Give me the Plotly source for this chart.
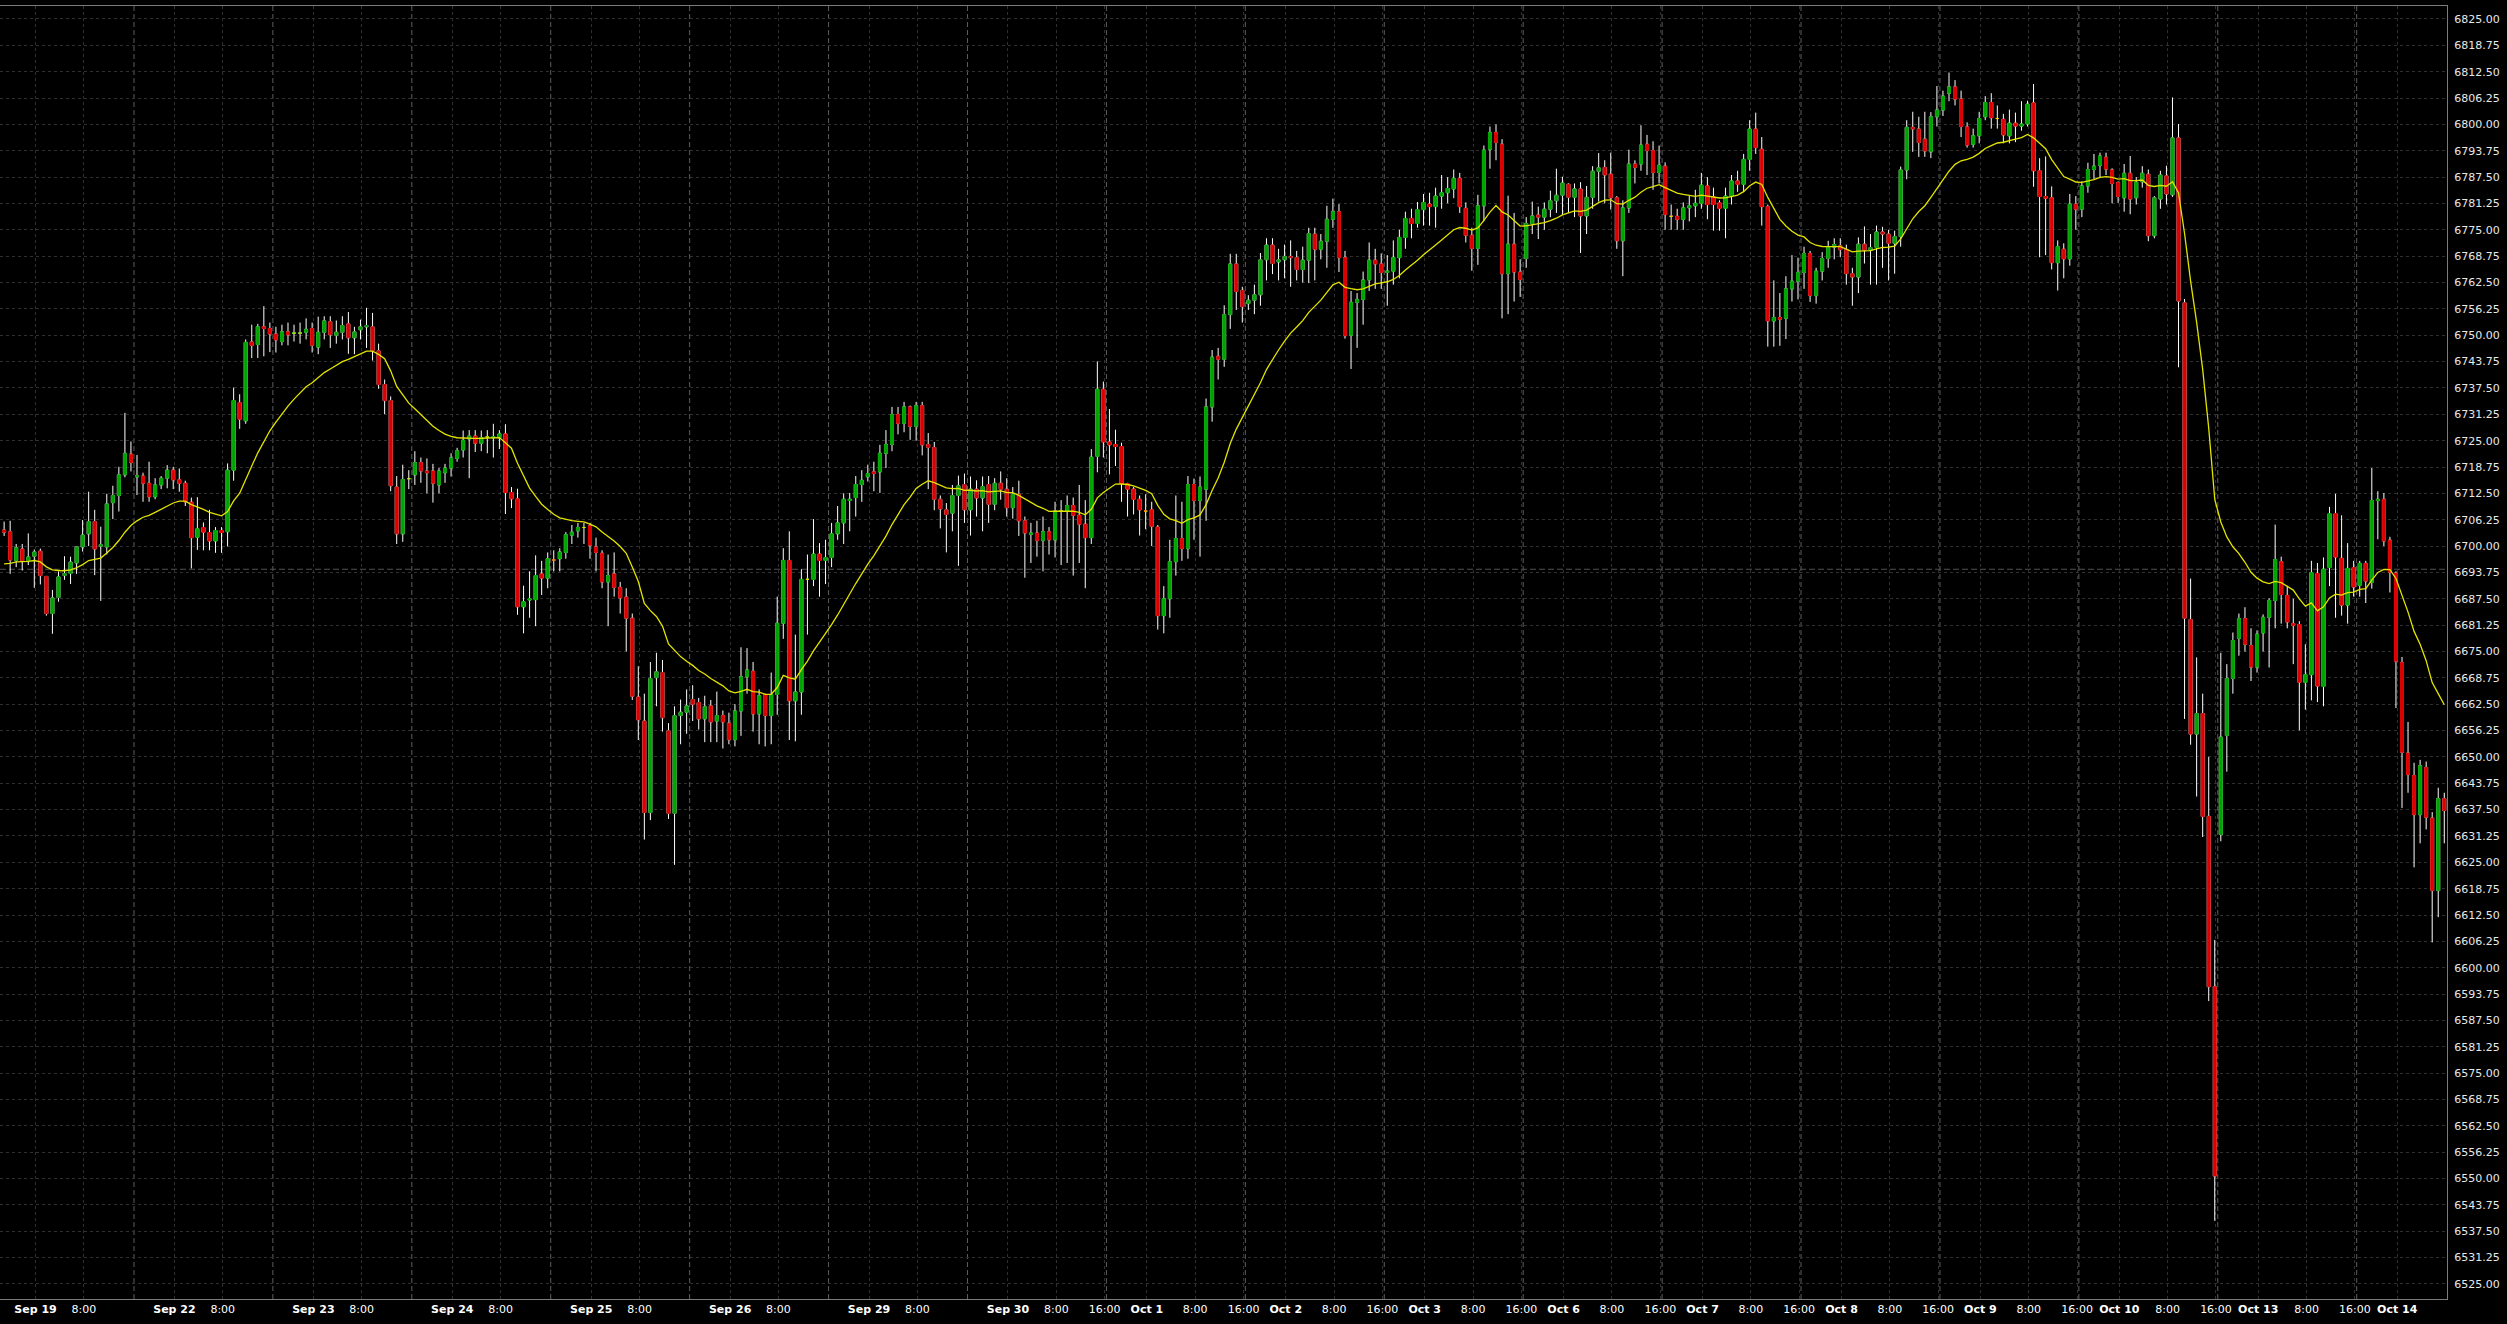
import plotly.graph_objects as go

# ---------------- data (hourly bars, index 0..404) ----------------
opens = [
    6703.8, 6703.4, 6696.6, 6699.3, 6696.6, 6697.6, 6698.8, 6692.8, 6684.0, 6687.8,
    6693.0, 6693.5, 6696.0, 6699.8, 6702.9, 6705.8, 6700.0, 6699.8, 6710.3, 6712.0,
    6716.9, 6721.8, 6716.4, 6716.6, 6714.9, 6711.7, 6714.5, 6716.1, 6718.0, 6715.7,
    6714.9, 6710.4, 6702.1, 6704.4, 6703.2, 6701.2, 6703.7, 6703.4, 6718.0, 6734.0,
    6729.7, 6748.4, 6747.8, 6752.0, 6751.6, 6750.3, 6748.5, 6750.8, 6750.5, 6750.5,
    6750.7, 6751.6, 6747.2, 6750.7, 6753.2, 6750.0, 6750.7, 6752.7, 6749.4, 6751.3,
    6752.0, 6752.0, 6746.3, 6738.3, 6734.5, 6714.0, 6702.9, 6716.0, 6716.9, 6719.8,
    6717.8, 6717.8, 6714.5, 6717.4, 6718.5, 6720.8, 6722.8, 6725.4, 6726.1, 6724.4,
    6725.9, 6725.7, 6725.7, 6726.6, 6712.7, 6711.2, 6685.6, 6687.2, 6687.3, 6693.4,
    6692.4, 6696.7, 6697.0, 6698.5, 6702.6, 6703.6, 6704.4, 6704.8, 6699.8, 6698.3,
    6691.5, 6693.4, 6690.2, 6687.9, 6682.9, 6664.2, 6658.5, 6636.8, 6668.8, 6670.0,
    6656.2, 6636.6, 6659.8, 6660.6, 6663.6, 6662.9, 6659.0, 6662.1, 6658.5, 6659.8,
    6658.0, 6654.1, 6660.9, 6669.0, 6670.3, 6660.2, 6664.8, 6659.8, 6664.8, 6681.7,
    6696.6, 6663.3, 6665.4, 6692.1, 6692.1, 6698.1, 6696.6, 6697.3, 6702.9, 6705.5,
    6710.8, 6711.5, 6714.6, 6716.4, 6717.6, 6717.6, 6722.0, 6724.1, 6731.2, 6729.1,
    6733.0, 6728.4, 6733.3, 6724.1, 6723.4, 6711.1, 6708.6, 6707.8, 6712.0, 6714.6,
    6708.6, 6713.5, 6711.4, 6714.6, 6709.9, 6714.9, 6713.5, 6709.1, 6712.3, 6706.0,
    6702.8, 6703.1, 6701.3, 6703.4, 6701.5, 6708.3, 6708.3, 6709.6, 6707.3, 6705.2,
    6702.0, 6721.3, 6737.2, 6724.7, 6724.1, 6723.6, 6714.8, 6713.5, 6711.1, 6708.3,
    6708.6, 6704.5, 6683.5, 6687.5, 6696.3, 6701.8, 6699.4, 6714.6, 6710.8, 6713.5,
    6733.0, 6745.0, 6744.3, 6754.9, 6766.9, 6760.6, 6757.5, 6758.3, 6759.6, 6767.9,
    6771.4, 6767.4, 6767.9, 6768.7, 6768.4, 6765.6, 6767.8, 6774.0, 6770.4, 6772.3,
    6777.5, 6779.3, 6768.4, 6750.0, 6757.8, 6758.5, 6763.1, 6767.8, 6766.9, 6764.9,
    6765.2, 6768.4, 6773.2, 6777.7, 6776.5, 6779.8, 6781.1, 6780.5, 6783.0, 6783.8,
    6784.7, 6787.2, 6780.1, 6773.7, 6770.6, 6780.7, 6794.1, 6798.1, 6795.3, 6764.6,
    6771.6, 6765.0, 6768.2, 6776.5, 6778.5, 6778.0, 6779.9, 6781.9, 6783.2, 6785.8,
    6782.7, 6784.7, 6778.3, 6782.7, 6788.9, 6789.8, 6788.2, 6782.6, 6772.4, 6780.2,
    6790.6, 6790.6, 6795.3, 6793.8, 6788.6, 6790.1, 6778.2, 6778.2, 6777.5, 6780.2,
    6780.7, 6781.3, 6785.4, 6782.8, 6781.4, 6780.1, 6783.0, 6786.6, 6785.8, 6791.7,
    6798.9, 6794.1, 6780.5, 6753.4, 6754.2, 6754.0, 6761.0, 6762.8, 6764.9, 6769.4,
    6759.4, 6765.2, 6768.2, 6770.9, 6771.2, 6770.3, 6764.6, 6763.8, 6771.6, 6770.2,
    6770.8, 6774.5, 6774.0, 6771.8, 6773.4, 6789.2, 6799.3, 6798.9, 6796.5, 6793.5,
    6801.8, 6803.4, 6807.4, 6808.9, 6806.0, 6799.4, 6795.3, 6797.3, 6801.8, 6805.2,
    6801.4, 6801.2, 6797.3, 6800.3, 6799.6, 6800.1, 6805.1, 6789.0, 6782.9, 6782.6,
    6767.2, 6770.4, 6768.1, 6781.1, 6779.9, 6785.4, 6789.3, 6790.3, 6792.2, 6789.2,
    6786.2, 6782.6, 6788.4, 6782.6, 6786.4, 6788.2, 6773.6, 6782.3, 6787.8, 6783.3,
    6796.8, 6757.7, 6682.6, 6655.4, 6660.3, 6635.9, 6595.5, 6631.6, 6655.1, 6668.6,
    6678.1, 6682.8, 6676.4, 6671.3, 6679.4, 6683.1, 6687.1, 6696.3, 6688.3, 6681.6,
    6681.4, 6667.7, 6669.5, 6693.5, 6666.7, 6694.9, 6707.7, 6697.1, 6686.0, 6694.9,
    6690.7, 6695.9, 6691.4, 6710.8, 6711.1, 6701.4, 6693.6, 6672.4, 6650.9, 6645.6,
    6636.3, 6647.5, 6635.5, 6618.3, 6640.1,
]

highs = [
    6705.8, 6706.0, 6700.5, 6700.5, 6703.0, 6699.2, 6699.4, 6692.8, 6689.6, 6694.0,
    6697.6, 6697.5, 6699.9, 6706.2, 6712.9, 6708.6, 6704.6, 6712.4, 6714.3, 6718.8,
    6731.6, 6724.8, 6721.6, 6717.4, 6720.0, 6716.1, 6716.6, 6719.2, 6718.8, 6718.4,
    6715.5, 6711.5, 6711.6, 6705.6, 6708.6, 6704.5, 6704.5, 6719.6, 6737.6, 6736.0,
    6749.0, 6752.5, 6752.7, 6756.9, 6753.0, 6752.0, 6752.5, 6753.0, 6752.5, 6753.0,
    6754.0, 6753.0, 6754.4, 6754.5, 6754.5, 6753.5, 6754.5, 6755.5, 6752.0, 6753.7,
    6756.5, 6755.3, 6748.0, 6739.5, 6735.5, 6716.6, 6719.3, 6718.0, 6722.5, 6721.0,
    6720.8, 6719.5, 6718.5, 6719.5, 6722.0, 6723.3, 6727.4, 6727.5, 6727.5, 6727.4,
    6727.5, 6729.0, 6727.5, 6728.9, 6714.0, 6713.6, 6690.6, 6694.0, 6697.8, 6696.5,
    6698.5, 6699.0, 6699.5, 6703.3, 6705.0, 6705.5, 6705.5, 6705.5, 6702.0, 6699.0,
    6698.0, 6698.5, 6691.5, 6690.0, 6684.0, 6671.5, 6665.0, 6672.5, 6674.7, 6673.0,
    6658.0, 6662.0, 6663.6, 6666.0, 6667.0, 6664.0, 6664.5, 6663.5, 6665.5, 6661.0,
    6660.5, 6662.5, 6676.0, 6675.8, 6672.5, 6666.0, 6665.0, 6670.0, 6688.0, 6699.5,
    6703.5, 6679.0, 6694.5, 6698.0, 6706.4, 6700.7, 6701.5, 6705.5, 6709.5, 6712.5,
    6712.6, 6716.6, 6718.0, 6719.3, 6720.0, 6724.0, 6727.5, 6733.0, 6733.0, 6734.2,
    6733.3, 6734.2, 6734.2, 6726.8, 6724.7, 6712.0, 6710.2, 6714.5, 6716.7, 6717.2,
    6716.5, 6715.6, 6716.5, 6716.6, 6716.1, 6717.7, 6716.1, 6714.0, 6715.5, 6707.0,
    6705.5, 6706.0, 6707.0, 6704.5, 6710.5, 6710.9, 6712.0, 6711.5, 6714.5, 6710.9,
    6723.0, 6743.8, 6739.0, 6732.5, 6727.6, 6724.5, 6715.0, 6714.0, 6712.0, 6712.3,
    6710.5, 6705.0, 6690.5, 6701.5, 6712.0, 6710.5, 6716.6, 6716.0, 6716.5, 6735.0,
    6746.5, 6747.0, 6757.1, 6769.3, 6769.3, 6761.5, 6759.5, 6762.0, 6769.5, 6773.0,
    6773.0, 6770.5, 6771.5, 6772.5, 6770.0, 6771.0, 6775.5, 6775.5, 6774.0, 6780.7,
    6782.4, 6781.1, 6770.0, 6760.5, 6760.0, 6765.1, 6772.0, 6770.5, 6769.4, 6769.0,
    6772.5, 6775.0, 6779.3, 6780.0, 6781.6, 6783.5, 6783.8, 6785.0, 6788.0, 6787.5,
    6789.3, 6788.5, 6781.5, 6775.5, 6783.3, 6795.0, 6799.5, 6800.0, 6796.5, 6783.1,
    6779.0, 6768.0, 6778.0, 6781.7, 6780.5, 6781.5, 6784.3, 6789.5, 6787.6, 6786.0,
    6786.0, 6786.3, 6785.4, 6790.1, 6793.2, 6791.5, 6793.3, 6783.0, 6782.0, 6794.0,
    6791.5, 6799.8, 6797.5, 6796.0, 6795.0, 6791.0, 6781.0, 6780.0, 6781.5, 6783.0,
    6784.5, 6788.5, 6787.5, 6785.0, 6782.0, 6785.0, 6788.0, 6789.0, 6793.0, 6801.0,
    6802.8, 6797.0, 6781.0, 6763.0, 6760.0, 6764.0, 6769.0, 6768.4, 6771.0, 6770.0,
    6766.0, 6769.7, 6772.4, 6773.0, 6773.0, 6771.5, 6766.0, 6773.2, 6775.8, 6774.0,
    6776.0, 6775.7, 6775.0, 6774.8, 6790.0, 6801.0, 6803.0, 6801.8, 6803.0, 6802.9,
    6809.1, 6808.0, 6812.3, 6810.5, 6808.0, 6800.5, 6799.0, 6803.0, 6806.7, 6807.4,
    6804.5, 6802.5, 6803.5, 6802.8, 6805.5, 6805.6, 6809.6, 6792.0, 6792.4, 6785.3,
    6772.5, 6771.8, 6783.5, 6783.0, 6786.5, 6790.9, 6793.0, 6793.3, 6793.3, 6789.6,
    6786.5, 6790.6, 6792.5, 6787.5, 6790.1, 6789.3, 6783.0, 6789.0, 6790.2, 6806.4,
    6800.1, 6758.6, 6692.3, 6673.6, 6665.0, 6650.0, 6606.6, 6674.7, 6672.0, 6679.5,
    6684.0, 6685.5, 6680.5, 6680.0, 6683.8, 6687.6, 6705.1, 6697.5, 6690.6, 6687.5,
    6682.2, 6676.7, 6696.5, 6696.0, 6697.3, 6709.3, 6712.4, 6707.3, 6700.7, 6696.5,
    6696.5, 6696.5, 6718.5, 6713.0, 6712.6, 6702.2, 6694.0, 6673.7, 6658.3, 6648.6,
    6649.3, 6648.9, 6636.9, 6642.7, 6641.5,
]

lows = [
    6702.4, 6693.4, 6695.0, 6694.2, 6695.5, 6690.1, 6690.9, 6683.5, 6679.2, 6686.8,
    6692.0, 6691.0, 6693.4, 6698.7, 6700.0, 6693.1, 6687.0, 6698.0, 6706.4, 6708.2,
    6716.3, 6717.7, 6712.1, 6710.5, 6710.5, 6711.1, 6713.5, 6713.7, 6713.5, 6712.9,
    6709.5, 6694.7, 6699.1, 6699.0, 6699.0, 6698.4, 6698.4, 6699.9, 6715.5, 6727.8,
    6729.0, 6744.6, 6744.6, 6745.0, 6746.0, 6745.9, 6747.6, 6747.6, 6748.5, 6748.0,
    6749.0, 6745.9, 6745.5, 6749.0, 6747.0, 6748.0, 6749.0, 6745.6, 6745.5, 6749.0,
    6747.0, 6744.0, 6737.3, 6731.3, 6713.0, 6700.5, 6701.0, 6713.5, 6714.5, 6715.0,
    6712.5, 6710.3, 6712.5, 6715.0, 6716.5, 6720.0, 6721.0, 6716.1, 6722.3, 6722.5,
    6722.0, 6721.0, 6723.0, 6707.6, 6709.0, 6683.7, 6679.3, 6683.0, 6681.0, 6688.4,
    6690.0, 6694.0, 6694.0, 6697.0, 6700.5, 6702.0, 6700.5, 6697.0, 6694.0, 6690.0,
    6681.0, 6688.0, 6684.0, 6675.0, 6663.5, 6654.0, 6630.4, 6635.0, 6662.0, 6656.0,
    6635.3, 6624.4, 6653.0, 6655.5, 6658.5, 6656.5, 6653.5, 6653.5, 6653.5, 6652.0,
    6653.0, 6652.5, 6655.0, 6665.0, 6656.0, 6653.0, 6652.5, 6653.0, 6660.0, 6678.0,
    6654.0, 6653.7, 6660.0, 6679.0, 6690.5, 6688.0, 6691.0, 6695.0, 6701.5, 6700.5,
    6703.5, 6707.0, 6710.5, 6715.3, 6713.0, 6712.6, 6718.5, 6722.5, 6726.5, 6727.0,
    6725.2, 6725.0, 6721.5, 6713.5, 6708.5, 6704.2, 6698.5, 6703.5, 6695.3, 6705.5,
    6702.5, 6707.0, 6703.5, 6705.5, 6708.5, 6711.0, 6707.0, 6706.5, 6702.4, 6692.5,
    6696.0, 6697.5, 6694.0, 6698.0, 6697.3, 6695.5, 6696.0, 6693.0, 6696.0, 6690.0,
    6700.5, 6717.5, 6721.0, 6717.0, 6719.0, 6710.5, 6707.0, 6707.5, 6702.5, 6704.0,
    6700.0, 6680.2, 6679.3, 6683.0, 6693.0, 6696.5, 6697.0, 6701.5, 6697.5, 6706.0,
    6729.5, 6739.5, 6742.5, 6751.5, 6756.0, 6753.0, 6756.0, 6755.0, 6757.0, 6763.0,
    6764.5, 6763.0, 6763.5, 6761.5, 6763.0, 6762.5, 6762.4, 6763.0, 6768.0, 6766.0,
    6775.5, 6765.0, 6749.2, 6742.0, 6747.0, 6752.5, 6760.5, 6761.0, 6761.0, 6757.0,
    6762.0, 6763.5, 6770.5, 6773.0, 6775.5, 6776.0, 6776.0, 6775.5, 6780.0, 6781.3,
    6782.5, 6779.0, 6772.0, 6765.3, 6766.7, 6777.0, 6789.5, 6791.5, 6754.0, 6755.0,
    6758.0, 6759.1, 6766.0, 6774.0, 6772.8, 6775.0, 6778.0, 6779.0, 6778.5, 6779.0,
    6778.0, 6769.5, 6774.0, 6780.0, 6781.7, 6781.3, 6779.8, 6770.5, 6764.0, 6779.0,
    6786.0, 6789.0, 6788.0, 6784.5, 6786.0, 6775.0, 6775.0, 6775.0, 6775.0, 6777.0,
    6778.0, 6780.0, 6777.5, 6774.8, 6774.8, 6773.0, 6781.0, 6784.0, 6784.0, 6789.0,
    6793.0, 6776.0, 6747.3, 6747.3, 6747.5, 6749.1, 6758.0, 6758.5, 6761.0, 6757.9,
    6757.5, 6763.0, 6766.0, 6768.0, 6768.5, 6762.0, 6757.0, 6760.0, 6767.0, 6762.0,
    6762.0, 6766.0, 6763.0, 6764.6, 6771.0, 6787.0, 6793.5, 6792.3, 6792.3, 6792.0,
    6799.5, 6802.0, 6805.5, 6804.5, 6797.0, 6794.5, 6794.5, 6795.5, 6801.0, 6799.0,
    6799.0, 6795.5, 6795.5, 6795.8, 6798.5, 6799.5, 6785.2, 6768.5, 6769.0, 6765.6,
    6760.6, 6763.5, 6766.5, 6775.0, 6778.0, 6783.8, 6787.0, 6787.3, 6788.0, 6781.3,
    6781.4, 6779.3, 6778.7, 6781.0, 6785.0, 6772.3, 6773.0, 6780.0, 6781.0, 6782.8,
    6742.4, 6659.0, 6652.9, 6640.6, 6631.0, 6592.1, 6540.0, 6630.0, 6646.5, 6665.0,
    6674.0, 6675.0, 6668.0, 6670.0, 6675.0, 6671.2, 6680.5, 6681.6, 6680.5, 6672.0,
    6656.3, 6661.2, 6663.4, 6663.0, 6662.0, 6690.5, 6683.0, 6683.5, 6681.6, 6688.0,
    6688.0, 6686.5, 6689.9, 6701.6, 6700.0, 6689.0, 6661.6, 6637.9, 6641.5, 6623.8,
    6629.5, 6632.8, 6606.0, 6612.0, 6629.5,
]

closes = [
    6703.3, 6696.7, 6699.6, 6696.5, 6697.4, 6698.6, 6693.0, 6684.0, 6687.7, 6692.7,
    6693.5, 6696.2, 6699.8, 6702.6, 6705.8, 6699.3, 6700.3, 6710.0, 6712.0, 6716.9,
    6722.0, 6719.8, 6716.7, 6714.9, 6711.7, 6714.5, 6716.1, 6718.0, 6715.7, 6714.9,
    6710.5, 6702.0, 6704.1, 6703.3, 6701.2, 6703.7, 6703.2, 6718.0, 6734.5, 6730.1,
    6748.3, 6747.6, 6752.0, 6751.6, 6750.3, 6748.9, 6750.8, 6750.1, 6750.5, 6750.5,
    6751.4, 6747.6, 6750.7, 6753.4, 6750.1, 6750.7, 6752.3, 6749.4, 6750.8, 6752.0,
    6752.3, 6746.3, 6738.3, 6734.5, 6714.3, 6702.9, 6715.8, 6716.0, 6719.8, 6717.8,
    6717.4, 6714.9, 6717.8, 6718.5, 6720.9, 6722.6, 6725.1, 6726.1, 6724.4, 6725.7,
    6725.9, 6725.9, 6726.6, 6712.7, 6711.2, 6685.6, 6686.8, 6687.5, 6693.0, 6692.4,
    6697.0, 6696.7, 6698.6, 6702.7, 6703.3, 6704.4, 6704.4, 6700.2, 6698.5, 6691.5,
    6693.0, 6690.2, 6687.7, 6682.9, 6664.4, 6658.8, 6636.8, 6668.6, 6670.2, 6659.3,
    6636.6, 6659.8, 6660.6, 6662.1, 6662.5, 6659.0, 6661.9, 6658.3, 6659.8, 6658.3,
    6654.1, 6660.9, 6669.0, 6670.6, 6660.2, 6664.5, 6659.8, 6664.8, 6681.7, 6696.6,
    6663.3, 6665.4, 6692.1, 6692.1, 6698.1, 6696.6, 6697.3, 6702.9, 6705.5, 6711.1,
    6711.1, 6714.6, 6715.6, 6717.2, 6717.2, 6722.0, 6724.1, 6731.2, 6729.1, 6733.0,
    6728.4, 6733.3, 6724.0, 6723.4, 6711.1, 6708.8, 6707.5, 6712.0, 6714.3, 6708.6,
    6713.5, 6711.4, 6714.1, 6709.9, 6714.9, 6713.5, 6709.1, 6712.3, 6706.0, 6703.1,
    6703.1, 6701.3, 6703.4, 6701.5, 6708.3, 6708.3, 6709.6, 6707.3, 6705.2, 6702.0,
    6721.1, 6737.2, 6724.7, 6724.0, 6723.6, 6714.8, 6713.5, 6711.1, 6708.6, 6708.3,
    6704.7, 6683.5, 6687.5, 6696.3, 6701.8, 6699.4, 6714.6, 6710.8, 6714.0, 6733.0,
    6744.8, 6744.3, 6754.9, 6766.9, 6760.4, 6756.8, 6758.3, 6759.6, 6767.9, 6771.4,
    6767.0, 6767.9, 6768.7, 6768.4, 6765.6, 6767.8, 6774.1, 6770.4, 6772.3, 6777.5,
    6779.3, 6768.4, 6749.9, 6757.8, 6758.5, 6763.1, 6767.8, 6766.9, 6764.9, 6765.2,
    6768.4, 6773.2, 6777.7, 6776.5, 6779.8, 6781.5, 6780.5, 6783.0, 6783.8, 6784.8,
    6787.2, 6780.5, 6773.7, 6770.6, 6780.7, 6793.9, 6798.1, 6795.7, 6764.6, 6771.6,
    6765.0, 6763.2, 6776.5, 6778.3, 6778.0, 6779.9, 6781.9, 6783.2, 6786.1, 6782.7,
    6784.7, 6778.3, 6782.7, 6788.9, 6789.7, 6788.0, 6782.6, 6772.4, 6780.2, 6790.6,
    6789.8, 6795.1, 6793.8, 6788.6, 6790.3, 6778.6, 6778.2, 6777.5, 6780.2, 6780.7,
    6781.3, 6785.6, 6781.0, 6781.0, 6780.1, 6783.0, 6786.6, 6785.8, 6791.7, 6798.9,
    6794.5, 6780.5, 6753.4, 6754.2, 6753.8, 6761.0, 6762.8, 6764.9, 6769.4, 6759.4,
    6765.2, 6768.2, 6771.0, 6771.5, 6770.3, 6764.6, 6763.8, 6771.6, 6770.2, 6770.8,
    6774.5, 6774.0, 6771.8, 6773.4, 6789.2, 6799.3, 6798.9, 6795.7, 6793.7, 6801.8,
    6803.4, 6806.7, 6808.9, 6806.0, 6799.5, 6795.1, 6797.3, 6801.4, 6805.2, 6801.6,
    6801.4, 6797.5, 6800.3, 6799.6, 6800.1, 6804.8, 6789.0, 6782.9, 6782.5, 6767.2,
    6771.0, 6768.1, 6781.1, 6779.9, 6785.4, 6789.3, 6790.1, 6792.5, 6789.4, 6786.0,
    6782.9, 6788.4, 6782.3, 6786.3, 6788.4, 6773.6, 6782.6, 6788.0, 6783.5, 6796.8,
    6758.1, 6682.9, 6655.4, 6660.3, 6635.9, 6595.5, 6550.6, 6654.7, 6668.6, 6677.6,
    6682.8, 6676.7, 6671.3, 6679.1, 6683.1, 6687.1, 6696.8, 6688.5, 6682.0, 6681.2,
    6667.7, 6669.5, 6693.7, 6666.8, 6694.5, 6707.7, 6697.4, 6686.0, 6694.7, 6690.3,
    6695.9, 6691.7, 6710.8, 6711.1, 6701.2, 6693.8, 6672.7, 6651.1, 6645.8, 6636.3,
    6647.9, 6635.7, 6618.3, 6640.1, 6637.3,
]

day_labels = ["Sep 19", "Sep 22", "Sep 23", "Sep 24", "Sep 25", "Sep 26", "Sep 29",
              "Sep 30", "Oct 1", "Oct 2", "Oct 3", "Oct 6", "Oct 7", "Oct 8",
              "Oct 9", "Oct 10", "Oct 13", "Oct 14"]
day_hour_labels = [["8:00"]] * 7 + [["8:00", "16:00"]] * 10 + [[]]
hline_level = 6694.5          # grey dashed horizontal line
ema_period = 20               # yellow moving average (EMA of close)
ema_start = 6695.0            # MA value at the left edge

# ---------------- derived ----------------
N = len(closes)
x = list(range(N))
BARS_PER_DAY = 23

body_hi = [max(o, c) for o, c in zip(opens, closes)]
body_lo = [min(o, c) for o, c in zip(opens, closes)]
doji_idx = [i for i in x if opens[i] == closes[i]]

alpha = 2.0 / (ema_period + 1)
ema, prev = [], ema_start
for c in closes:
    prev = prev + alpha * (c - prev)
    ema.append(prev)

tickvals, ticktext = [], []
hour_offset = {"8:00": 13.2, "16:00": 21.2}
for d, lab in enumerate(day_labels):
    tickvals.append(d * BARS_PER_DAY + 5.2)
    ticktext.append("<b>%s</b>" % lab)
    for h in day_hour_labels[d]:
        tickvals.append(d * BARS_PER_DAY + hour_offset[h])
        ticktext.append(h)

GREEN = "#00a400"
RED = "#dc0000"
YELLOW = "#e3e300"
FONT = "DejaVu Sans"

fig = go.Figure()

# wicks (white) underneath
fig.add_trace(go.Candlestick(
    x=x, open=opens, high=highs, low=lows, close=closes,
    increasing=dict(line=dict(color="#ffffff", width=1), fillcolor="#ffffff"),
    decreasing=dict(line=dict(color="#ffffff", width=1), fillcolor="#ffffff"),
    whiskerwidth=0, showlegend=False, hoverinfo="skip"))

# bodies
fig.add_trace(go.Candlestick(
    x=x, open=opens, high=body_hi, low=body_lo, close=closes,
    increasing=dict(line=dict(color=GREEN, width=1), fillcolor=GREEN),
    decreasing=dict(line=dict(color=RED, width=1), fillcolor=RED),
    whiskerwidth=0, showlegend=False, hoverinfo="skip"))

# doji bars drawn in yellow
fig.add_trace(go.Candlestick(
    x=doji_idx,
    open=[opens[i] for i in doji_idx], high=[opens[i] for i in doji_idx],
    low=[opens[i] for i in doji_idx], close=[closes[i] for i in doji_idx],
    increasing=dict(line=dict(color=YELLOW, width=1.2), fillcolor=YELLOW),
    decreasing=dict(line=dict(color=YELLOW, width=1.2), fillcolor=YELLOW),
    whiskerwidth=0, showlegend=False, hoverinfo="skip"))

# moving average
fig.add_trace(go.Scatter(x=x, y=ema, mode="lines",
                         line=dict(color=YELLOW, width=1.3),
                         showlegend=False, hoverinfo="skip"))

# day separators
shapes = []
for k in range(1, len(day_labels)):
    xs = k * BARS_PER_DAY - 1.5
    shapes.append(dict(type="line", xref="x", yref="paper", x0=xs, x1=xs, y0=0, y1=1,
                       line=dict(color="#5e5e5e", width=1, dash="5px,3px"), layer="below"))
shapes.append(dict(type="line", xref="paper", yref="y", x0=0, x1=1,
                   y0=hline_level, y1=hline_level,
                   line=dict(color="#505050", width=1, dash="6px,3px"), layer="below"))

fig.update_layout(
    width=2507, height=1324,
    margin=dict(l=0, r=60, t=6, b=25),
    paper_bgcolor="#000000", plot_bgcolor="#000000",
    boxgap=0.3,
    shapes=shapes,
    showlegend=False,
    hovermode=False,
    font=dict(family=FONT, size=11, color="#ffffff"),
    xaxis=dict(
        range=[-0.68, 404.45], rangeslider=dict(visible=False),
        tickmode="array", tickvals=tickvals, ticktext=ticktext,
        showgrid=True, gridcolor="#303030", gridwidth=1, griddash="3px,3px",
        zeroline=False, showline=True, linecolor="#7c7c7c", linewidth=1, mirror=True,
        ticks="", tickfont=dict(family=FONT, size=11, color="#ffffff"),
        fixedrange=True,
    ),
    yaxis=dict(
        side="right", range=[6521.44, 6828.08],
        tickmode="linear", tick0=6525, dtick=6.25, tickformat=".2f",
        showgrid=True, gridcolor="#303030", gridwidth=1, griddash="3px,3px",
        zeroline=False, showline=True, linecolor="#7c7c7c", linewidth=1, mirror=True,
        ticks="", ticklabelstandoff=4,
        tickfont=dict(family=FONT, size=11, color="#e8e8e8"),
        fixedrange=True,
    ),
)

fig.write_html(
    "out.html",
    config={"displayModeBar": False, "staticPlot": True},
    post_script="document.body.style.margin='0';document.body.style.padding='0';"
                "document.body.style.background='#000';"
                "document.documentElement.style.overflow='hidden';",
)
